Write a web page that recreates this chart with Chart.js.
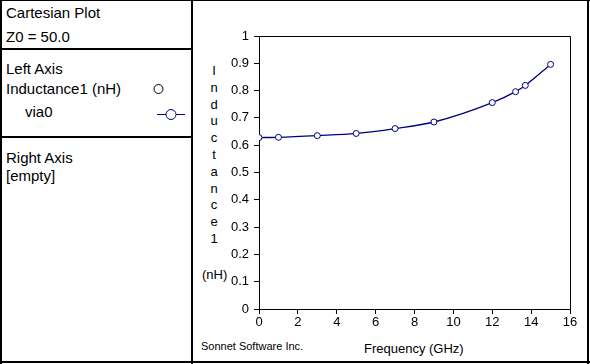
<!DOCTYPE html>
<html>
<head>
<meta charset="utf-8">
<script src="https://cdn.jsdelivr.net/npm/chart.js@4/dist/chart.umd.min.js"></script>
<style>
  body { margin: 0; background: #fff; }
  #wrap { position: relative; width: 590px; height: 364px; overflow: hidden;
          font-family: "Liberation Sans", Arial, sans-serif; color: #000; }
  .ln { position: absolute; background: #000; }
  .t15 { position: absolute; font-size: 15px; line-height: 15px; white-space: nowrap; }
  .t13 { position: absolute; font-size: 13px; line-height: 13px; white-space: nowrap; }
  #ytitle { position: absolute; left: 204px; top: 63px; width: 20px; text-align: center;
            font-size: 13px; line-height: 16.8px; }
  canvas { position: absolute; left: 194px; top: 1px; }
</style>
</head>
<body>
<div id="wrap">
  <!-- frame -->
  <div class="ln" style="left:0;top:0;width:590px;height:1px"></div>
  <div class="ln" style="left:0;top:0;width:2px;height:364px"></div>
  <div class="ln" style="left:587px;top:0;width:2px;height:364px"></div>
  <div class="ln" style="left:0;top:361px;width:590px;height:2px"></div>
  <div class="ln" style="left:191px;top:0;width:2px;height:364px"></div>
  <div class="ln" style="left:0;top:48px;width:192px;height:2px"></div>
  <div class="ln" style="left:0;top:136px;width:192px;height:2px"></div>

  <!-- left panel -->
  <div class="t15" style="left:6px;top:5px">Cartesian Plot</div>
  <div class="t15" style="left:6px;top:29px">Z0 = 50.0</div>
  <div class="t15" style="left:6px;top:61px">Left Axis</div>
  <div class="t15" style="left:6px;top:81px">Inductance1 (nH)</div>
  <div class="t15" style="left:25px;top:104px">via0</div>
  <div class="t15" style="left:6px;top:150px">Right Axis</div>
  <div class="t15" style="left:6px;top:168px">[empty]</div>
  <svg style="position:absolute;left:150px;top:80px" width="40" height="45">
    <circle cx="8.5" cy="9" r="4.5" fill="none" stroke="#000" stroke-width="1"/>
    <line x1="7" y1="34.5" x2="35" y2="34.5" stroke="#000080" stroke-width="1"/>
    <circle cx="21" cy="34.5" r="5" fill="#fff" stroke="#000080" stroke-width="1"/>
  </svg>

  <!-- axis titles -->
  <div id="ytitle"></div>
  <div class="t13" style="left:202px;top:268px">(nH)</div>
  <div class="t13" style="left:364px;top:342px">Frequency (GHz)</div>
  <div style="position:absolute;left:201px;top:341px;font-size:11px;line-height:11px;white-space:nowrap">Sonnet Software Inc.</div>

  <canvas id="plot" width="394" height="360"></canvas>
</div>
<script>
var freqGHz = [0, 1, 3, 5, 7, 9, 12, 13.2, 13.7, 15];
var via0 = [0.628, 0.629, 0.635, 0.643, 0.661, 0.685, 0.756, 0.796, 0.819, 0.896];
var yTitleChars = ["I", "n", "d", "u", "c", "t", "a", "n", "c", "e", "1"];

document.getElementById("ytitle").innerHTML = yTitleChars.join("<br>");

var points = freqGHz.map(function (f, i) { return { x: f, y: via0[i] }; });

var plotFrame = {
	id: 'plotFrame',
	afterDraw: function (chart) {
		var a = chart.chartArea, ctx = chart.ctx;
		ctx.save();
		ctx.strokeStyle = '#000';
		ctx.lineWidth = 1;
		ctx.beginPath();
		ctx.moveTo(Math.round(a.left) + 0.5, Math.round(a.top) + 0.5);
		ctx.lineTo(Math.round(a.right) + 0.5, Math.round(a.top) + 0.5);
		ctx.lineTo(Math.round(a.right) + 0.5, Math.round(a.bottom) + 0.5);
		ctx.stroke();
		ctx.restore();
	}
};

window.onload = function () {
	var ctx = document.getElementById("plot").getContext("2d");
	var tickFont = { family: "'Liberation Sans', Arial, sans-serif", size: 13 };
	new Chart(ctx, {
		type: 'line',
		data: {
			datasets: [{
				label: 'via0',
				data: points,
				borderColor: '#000080',
				borderWidth: 1.3,
				backgroundColor: '#fff',
				pointRadius: 3,
				pointBorderWidth: 1,
				pointBackgroundColor: '#fff',
				pointBorderColor: '#000080',
				cubicInterpolationMode: 'monotone',
				fill: false
			}]
		},
		options: {
			responsive: false,
			animation: false,
			devicePixelRatio: 1,
			layout: { padding: { left: 0, top: 35, right: 18, bottom: 0 } },
			plugins: { legend: { display: false }, tooltip: { enabled: false } },
			scales: {
				x: {
					type: 'linear', min: 0, max: 16,
					ticks: { stepSize: 2, color: '#000', font: tickFont, padding: 1, maxRotation: 0 },
					grid: { drawOnChartArea: false, drawTicks: true, tickLength: 5, color: '#000' },
					border: { display: true, color: '#000', width: 1 },
					afterFit: function (s) { s.height = 52; }
				},
				y: {
					min: 0, max: 1,
					ticks: {
						stepSize: 0.1, color: '#000', font: tickFont, padding: 5,
						callback: function (v) { return String(parseFloat(v.toFixed(1))); }
					},
					grid: { drawOnChartArea: false, drawTicks: true, tickLength: 5, color: '#000' },
					border: { display: true, color: '#000', width: 1 },
					afterFit: function (s) { s.width = 65; }
				}
			}
		},
		plugins: [plotFrame]
	});
};
</script>
</body>
</html>
